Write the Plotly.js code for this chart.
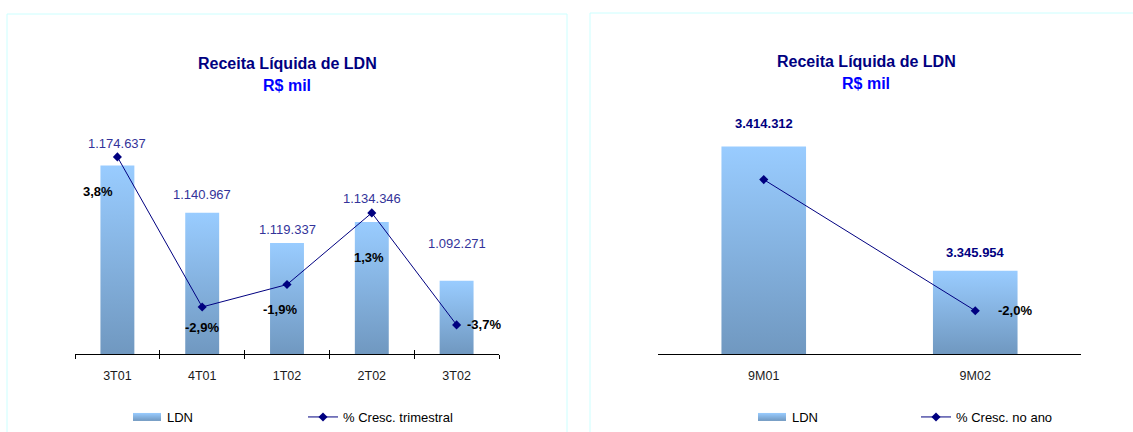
<!DOCTYPE html>
<html><head><meta charset="utf-8">
<script src="https://cdn.plot.ly/plotly-3.0.1.min.js"></script>
<style>html,body{margin:0;padding:0;background:#fff;} #chart{width:1133px;height:432px;}</style>
</head><body><div id="chart"></div>
<script>
// ---------- data ----------
const quarters = ['3T01', '4T01', '1T02', '2T02', '3T02'];
const ldnQuarter = [1174637, 1140967, 1119337, 1134346, 1092271];
const growthQuarter = [3.8, -2.9, -1.9, 1.3, -3.7];

const periods = ['9M01', '9M02'];
const ldnPeriod = [3414312, 3345954];
const growthPeriod = [0, -2.0];
const growthPeriodShown = [false, true];

const chartTitle = 'Receita Líquida de LDN';
const chartSubtitle = 'R$ mil';
const legendBar = 'LDN';
const legendLineQ = '% Cresc. trimestral';
const legendLineY = '% Cresc. no ano';

// ---------- label placement (pixel offsets, not data) ----------
const qValueShift = [22, 18, 13, 23, 37];
const qPctShift = [[-19, -35], [0, -21], [-7, -25], [-3, -45], [27, 0]];
const pValueShift = [23, 18];
const pPctShift = [[0, 0], [40, 0]];

// ---------- helpers ----------
const W = 1133, H = 432;
const px = v => v / W;
const py = v => 1 - v / H;
const fmtInt = n => String(n).replace(/\B(?=(\d{3})+(?!\d))/g, '.');
const fmtPct = v => v.toFixed(1).replace('.', ',') + '%';
const FONT = 'Liberation Sans, Arial, sans-serif';
const NAVY = '#000080';
const BAR = 'rgb(137, 180, 225)';

const traces = [
  {type: 'bar', x: quarters, y: ldnQuarter, xaxis: 'x', yaxis: 'y', width: 0.4,
   marker: {color: BAR}, name: legendBar, legend: 'legend', hoverinfo: 'skip'},
  {type: 'scatter', mode: 'lines+markers', x: quarters, y: growthQuarter, xaxis: 'x', yaxis: 'y2',
   line: {color: NAVY, width: 1}, marker: {symbol: 'diamond', size: 7, color: NAVY},
   name: legendLineQ, legend: 'legend', hoverinfo: 'skip'},
  {type: 'bar', x: periods, y: ldnPeriod, xaxis: 'x2', yaxis: 'y3', width: 0.4,
   marker: {color: BAR}, name: legendBar, legend: 'legend2', hoverinfo: 'skip'},
  {type: 'scatter', mode: 'lines+markers', x: periods, y: growthPeriod, xaxis: 'x2', yaxis: 'y4',
   line: {color: NAVY, width: 1}, marker: {symbol: 'diamond', size: 7, color: NAVY},
   name: legendLineY, legend: 'legend2', hoverinfo: 'skip'},
  // empty helper trace so the tick-overlay axis gets drawn
  {type: 'scatter', mode: 'none', x: [], y: [], xaxis: 'x3', yaxis: 'y', showlegend: false, hoverinfo: 'skip'}
];

const annotations = [];
[[287, chartTitle, 63, NAVY], [287, chartSubtitle, 85, '#0000ff'],
 [866, chartTitle, 62, NAVY], [866, chartSubtitle, 84, '#0000ff']].forEach(t => {
  annotations.push({xref: 'paper', yref: 'paper', x: px(t[0]), y: py(t[2]), text: '<b>' + t[1] + '</b>',
    showarrow: false, xanchor: 'center', yanchor: 'middle', font: {family: FONT, size: 16, color: t[3]}});
});
quarters.forEach((q, i) => {
  annotations.push({xref: 'x', yref: 'y', x: q, y: ldnQuarter[i], text: fmtInt(ldnQuarter[i]),
    showarrow: false, yshift: qValueShift[i], font: {family: FONT, size: 13, color: '#333399'}});
  annotations.push({xref: 'x', yref: 'y2', x: q, y: growthQuarter[i], text: '<b>' + fmtPct(growthQuarter[i]) + '</b>',
    showarrow: false, xshift: qPctShift[i][0], yshift: qPctShift[i][1], font: {family: FONT, size: 13, color: '#000'}});
});
periods.forEach((p, i) => {
  annotations.push({xref: 'x2', yref: 'y3', x: p, y: ldnPeriod[i], text: '<b>' + fmtInt(ldnPeriod[i]) + '</b>',
    showarrow: false, yshift: pValueShift[i], font: {family: FONT, size: 13, color: NAVY}});
  if (growthPeriodShown[i]) {
    annotations.push({xref: 'x2', yref: 'y4', x: p, y: growthPeriod[i], text: '<b>' + fmtPct(growthPeriod[i]) + '</b>',
      showarrow: false, xshift: pPctShift[i][0], yshift: pPctShift[i][1], font: {family: FONT, size: 13, color: '#000'}});
  }
});

const boundaries = quarters.map((q, i) => i - 0.5).concat([quarters.length - 0.5]);
const hidden = {visible: false, showgrid: false, zeroline: false, fixedrange: true};

const layout = {
  width: W, height: H, margin: {l: 0, r: 0, t: 0, b: 0},
  paper_bgcolor: '#fff', plot_bgcolor: 'rgba(0,0,0,0)',
  font: {family: FONT, size: 12, color: '#000'},
  hovermode: false, barmode: 'group', showlegend: true,
  xaxis: {domain: [px(75), px(499)], anchor: 'y', type: 'category', range: [-0.5, quarters.length - 0.5],
    showline: true, linecolor: '#000', linewidth: 1, ticks: 'outside', tickson: 'boundaries', ticklen: 4,
    tickcolor: '#000', tickwidth: 1, showgrid: false, zeroline: false, ticklabelstandoff: 10,
    tickfont: {family: FONT, size: 12.5, color: '#1a1a1a'}},
  xaxis3: {domain: [px(75), px(499)], anchor: 'y', overlaying: 'x', type: 'linear',
    range: [-0.5, quarters.length - 0.5], tickmode: 'array', tickvals: boundaries, ticks: 'inside', ticklen: 4,
    tickcolor: '#000', tickwidth: 1, showticklabels: false, showline: false, showgrid: false, zeroline: false},
  yaxis: Object.assign({domain: [py(354), py(130)], anchor: 'x', range: [1040000, 1200000]}, hidden),
  yaxis2: Object.assign({anchor: 'x', overlaying: 'y', side: 'right', range: [-5, 5]}, hidden),
  xaxis2: {domain: [px(658), px(1081)], anchor: 'y3', type: 'category', range: [-0.5, periods.length - 0.5],
    showline: true, linecolor: '#000', linewidth: 1, ticks: '', showgrid: false, zeroline: false,
    ticklabelstandoff: 10, tickfont: {family: FONT, size: 12.5, color: '#1a1a1a'}},
  yaxis3: Object.assign({domain: [py(354), py(136.3)], anchor: 'x2', range: [3300000, 3420000]}, hidden),
  yaxis4: Object.assign({anchor: 'x2', overlaying: 'y3', side: 'right', range: [-2.66, 0.66]}, hidden),
  legend: {orientation: 'h', x: px(127), xanchor: 'left', y: py(417), yanchor: 'middle',
    entrywidth: 131, entrywidthmode: 'pixels', bgcolor: 'rgba(0,0,0,0)',
    font: {family: FONT, size: 13, color: '#000'}, traceorder: 'normal'},
  legend2: {orientation: 'h', x: px(752), xanchor: 'left', y: py(417), yanchor: 'middle',
    entrywidth: 119, entrywidthmode: 'pixels', bgcolor: 'rgba(0,0,0,0)',
    font: {family: FONT, size: 13, color: '#000'}, traceorder: 'normal'},
  shapes: [
    {type: 'rect', xref: 'paper', yref: 'paper', x0: px(7), x1: px(567), y0: -0.05, y1: py(14),
     line: {color: '#ccffff', width: 1}, layer: 'below'},
    {type: 'rect', xref: 'paper', yref: 'paper', x0: px(590), x1: 1.05, y0: -0.05, y1: py(13),
     line: {color: '#ccffff', width: 1}, layer: 'below'}
  ],
  annotations: annotations
};

// ---------- gradient fill for the bars (visual style only) ----------
const NS = 'http://www.w3.org/2000/svg';
const STOPS = [['0', '#99ccff'], ['1', '#7098c0']];
function makeGrad(defs, id, y1, y2) {
  let g = document.getElementById(id);
  if (!g) {
    g = document.createElementNS(NS, 'linearGradient');
    g.setAttribute('id', id);
    STOPS.forEach(s => {
      const st = document.createElementNS(NS, 'stop');
      st.setAttribute('offset', s[0]); st.setAttribute('stop-color', s[1]);
      g.appendChild(st);
    });
    defs.appendChild(g);
  }
  if (y1 !== null) {
    g.setAttribute('gradientUnits', 'userSpaceOnUse');
    g.setAttribute('x1', 0); g.setAttribute('x2', 0);
    g.setAttribute('y1', y1); g.setAttribute('y2', y2);
  } else {
    g.setAttribute('x1', '0'); g.setAttribute('y1', '0'); g.setAttribute('x2', '0'); g.setAttribute('y2', '1');
  }
}
function applyGradient() {
  const gd = document.getElementById('chart');
  const svg = gd.querySelector('svg.main-svg');
  if (!svg || !gd._fullLayout) return;
  let defs = document.getElementById('gradDefs');
  if (!defs) { defs = document.createElementNS(NS, 'defs'); defs.setAttribute('id', 'gradDefs'); svg.insertBefore(defs, svg.firstChild); }
  makeGrad(defs, 'ldnGrad', null, null);
  const fl = gd._fullLayout;
  let n = 0;
  gd.querySelectorAll('path').forEach(p => {
    const f = (p.style.fill || '') + '|' + (p.getAttribute('fill') || '');
    const isBar = f.indexOf('137, 180, 225') >= 0 || f.indexOf('Grad') >= 0 || !!p.closest('.bars');
    if (!isBar) return;
    if (p.closest('.legendpoints')) {
      if (p.getAttribute('d') === 'M6,6H-6V-6H6Z') p.setAttribute('d', 'M14,4H-14V-4H14Z');
      p.style.setProperty('fill', 'url(#ldnGrad)', 'important');
      p.style.setProperty('stroke', 'none', 'important');
      return;
    }
    let bb;
    try { bb = p.getBBox(); } catch (e) { return; }
    const right = !!p.closest('.x2y3');
    const axLen = right ? fl.yaxis3._length : fl.yaxis._length;
    const bottom = Math.min(bb.y + bb.height, axLen);
    const id = 'barGrad' + n;
    makeGrad(defs, id, bb.y, bottom);
    p.style.setProperty('fill', 'url(#' + id + ')', 'important');
    n++;
  });
}

const gdiv = document.getElementById('chart');
const pr = Plotly.newPlot(gdiv, traces, layout, {staticPlot: true, displayModeBar: false});
function safeApply() { try { applyGradient(); } catch (e) { console.error(e); } }
safeApply();
if (pr && pr.then) pr.then(safeApply);
let ticksDone = 0;
const iv = setInterval(() => { safeApply(); if (++ticksDone > 40) clearInterval(iv); }, 25);
</script>
</body></html>
